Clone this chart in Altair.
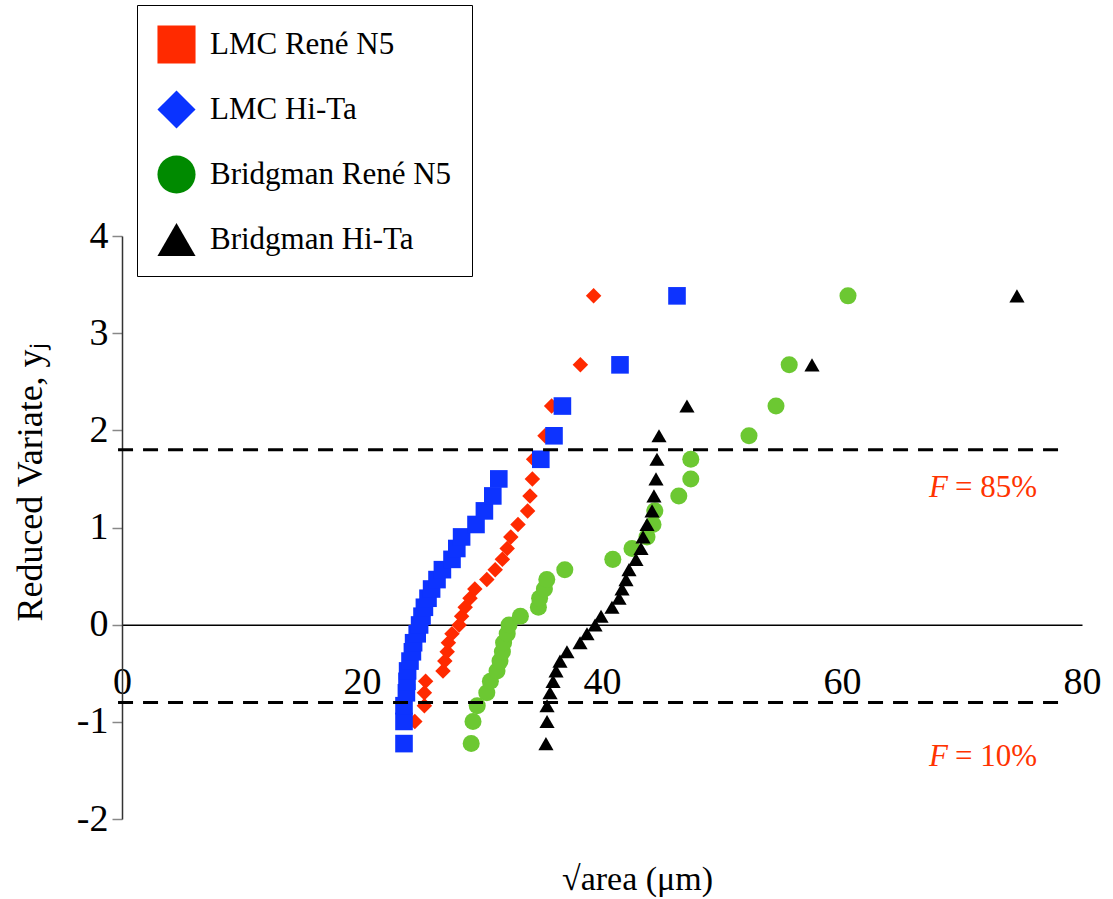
import altair as alt
import pandas as pd

# ---------------- data ----------------
series_names = ["LMC René N5", "LMC Hi-Ta", "Bridgman René N5", "Bridgman Hi-Ta"]

# reduced variate y_j of the 29 ranked points (shared by all four series)
reduced_variate = [-1.224, -0.996, -0.834, -0.701, -0.583, -0.476, -0.375, -0.279,
                   -0.186, -0.094, -0.003, 0.087, 0.179, 0.272, 0.367, 0.464,
                   0.566, 0.672, 0.784, 0.903, 1.031, 1.171, 1.325, 1.500,
                   1.702, 1.944, 2.250, 2.674, 3.384]

lmc_rene_n5 = [23.5, 24.4, 25.2, 25.2, 25.3, 26.75, 26.9, 27.1, 27.2, 27.5,
               28.1, 28.3, 28.6, 29.0, 29.4, 30.4, 31.1, 31.7, 32.1, 32.4,
               33.0, 33.8, 34.0, 34.2, 34.3, 35.25, 35.8, 38.2, 39.3]
lmc_hi_ta = [23.5, 23.5, 23.5, 23.7, 23.75, 23.8, 24.0, 24.2, 24.3, 24.6,
             24.8, 25.0, 25.2, 25.5, 25.8, 26.25, 26.7, 27.5, 27.9, 28.3,
             29.5, 30.2, 30.9, 31.4, 34.9, 36.0, 36.7, 41.5, 46.25]
bridgman_rene_n5 = [29.1, 29.25, 29.6, 30.4, 30.7, 31.25, 31.5, 31.7, 31.8, 32.1,
                    32.25, 33.2, 34.7, 34.8, 35.2, 35.4, 36.9, 40.9, 42.5, 43.75,
                    44.25, 44.4, 46.4, 47.4, 47.4, 52.25, 54.5, 55.6, 60.5]
bridgman_hi_ta = [35.33, 35.42, 35.42, 35.67, 35.92, 36.17, 36.5, 37.08, 38.17, 38.75,
                  39.42, 39.92, 40.83, 41.42, 41.67, 42.0, 42.25, 42.83, 43.25, 43.42,
                  43.75, 44.17, 44.33, 44.5, 44.58, 44.75, 47.08, 57.5, 74.58]
series_values = [lmc_rene_n5, lmc_hi_ta, bridgman_rene_n5, bridgman_hi_ta]

# reference levels F = 85 % and F = 10 %
ref_levels = [1.80, -0.80]
ref_x_start = [-0.33, -0.33]
ref_x_end = [78.6, 78.6]
ann_f = ["F", "F"]
ann_rest = ["= 85%", "= 10%"]
ann_x = [69.0, 69.0]
ann_y = [1.41, -1.36]

x_ticks = [0, 20, 40, 60, 80]
y_ticks = [-2, -1, 0, 1, 2, 3, 4]

# ---------------- styles ----------------
legend_colors = ["#ff2a00", "#0a33ff", "#008a00", "#000000"]
legend_shapes = ["square", "diamond", "circle", "triangle-up"]
plot_colors = ["#ff2a00", "#0d33ff", "#6cc832", "#000000"]
plot_shapes = ["diamond", "square", "circle", "triangle-up"]
plot_sizes = [240, 310, 290, 230]

SERIF = "Liberation Serif"
W, H = 960, 583

x_scale = alt.Scale(domain=[0, 80], nice=False, zero=False)
y_scale = alt.Scale(domain=[-2, 4], nice=False, zero=False)

x_axis = alt.Axis(values=x_ticks, offset=-H / 3, grid=False, ticks=False, tickSize=0,
                  domainColor="black", domainWidth=1.5,
                  labelFont=SERIF, labelFontSize=38, labelColor="black",
                  labelPadding=58, labelBaseline="middle", labelFlush=False,
                  labelOverlap=False,
                  title="√area (μm)", titleFont=SERIF, titleFontSize=34,
                  titleFontWeight="normal", titleColor="black",
                  titleX=515, titleY=255, titleBaseline="middle", titleAlign="center")
y_axis = alt.Axis(values=y_ticks, grid=False, domainColor="#333333", domainWidth=1.5,
                  tickColor="#888888", tickWidth=1.5, tickSize=10,
                  labelFont=SERIF, labelFontSize=38, labelColor="black",
                  labelPadding=4, labelExpr="'' + datum.value",
                  title="Reduced Variate, yⱼ", titleFont=SERIF, titleFontSize=36,
                  titleFontWeight="normal", titleColor="black",
                  titleX=-92, titleY=246, titleAngle=270,
                  titleBaseline="middle", titleAlign="center")

X = lambda f: alt.X(f, type="quantitative", scale=x_scale, axis=x_axis)
Y = lambda f: alt.Y(f, type="quantitative", scale=y_scale, axis=y_axis)

layers = []
for name, vals, col, shp, sz in zip(series_names, series_values, plot_colors,
                                     plot_shapes, plot_sizes):
    df = pd.DataFrame({"x": vals, "y": reduced_variate, "series": name})
    layers.append(
        alt.Chart(df).mark_point(filled=True, opacity=1, shape=shp, size=sz,
                                 color=col, strokeWidth=0)
        .encode(x=X("x"), y=Y("y"))
    )

ref_df = pd.DataFrame({"y": ref_levels, "x0": ref_x_start, "x1": ref_x_end})
rules = alt.Chart(ref_df).mark_rule(color="black", strokeWidth=3,
                                    strokeDash=[15, 10]).encode(
    x=X("x0"), x2="x1", y=Y("y"))

ann_df = pd.DataFrame({"x": ann_x, "y": ann_y, "f": ann_f, "rest": ann_rest})
ann_f_layer = alt.Chart(ann_df).mark_text(font=SERIF, fontSize=31, fontStyle="italic",
                                          color="#ff3300", align="right",
                                          baseline="middle", dx=-2).encode(
    x=X("x"), y=Y("y"), text="f:N")
ann_rest_layer = alt.Chart(ann_df).mark_text(font=SERIF, fontSize=31,
                                             color="#ff3300", align="left",
                                             baseline="middle", dx=5).encode(
    x=X("x"), y=Y("y"), text="rest:N")

legend = alt.Legend(title=None, orient="none", legendX=15, legendY=-231,
                    labelFont=SERIF, labelFontSize=31, labelColor="black",
                    labelLimit=500, symbolSize=1450, symbolStrokeWidth=0,
                    symbolOpacity=1, rowPadding=26, padding=20,
                    strokeColor="black", fillColor="white", labelOffset=14)
legend_df = pd.DataFrame({"series": series_names})
legend_layer = alt.Chart(legend_df).mark_point(filled=True, opacity=1).encode(
    color=alt.Color("series:N", scale=alt.Scale(domain=series_names, range=legend_colors),
                    legend=legend, sort=series_names),
    shape=alt.Shape("series:N", scale=alt.Scale(domain=series_names, range=legend_shapes),
                    legend=legend, sort=series_names),
).transform_filter("false")

chart = alt.layer(*layers, rules, ann_f_layer, ann_rest_layer, legend_layer).properties(
    width=W, height=H,
    autosize=alt.AutoSizeParams(type="none"),
    padding={"left": 122, "top": 236, "right": 31, "bottom": 80},
).configure_view(strokeWidth=0)

chart.save("out.html", embed_options={"renderer": "svg", "actions": False})
